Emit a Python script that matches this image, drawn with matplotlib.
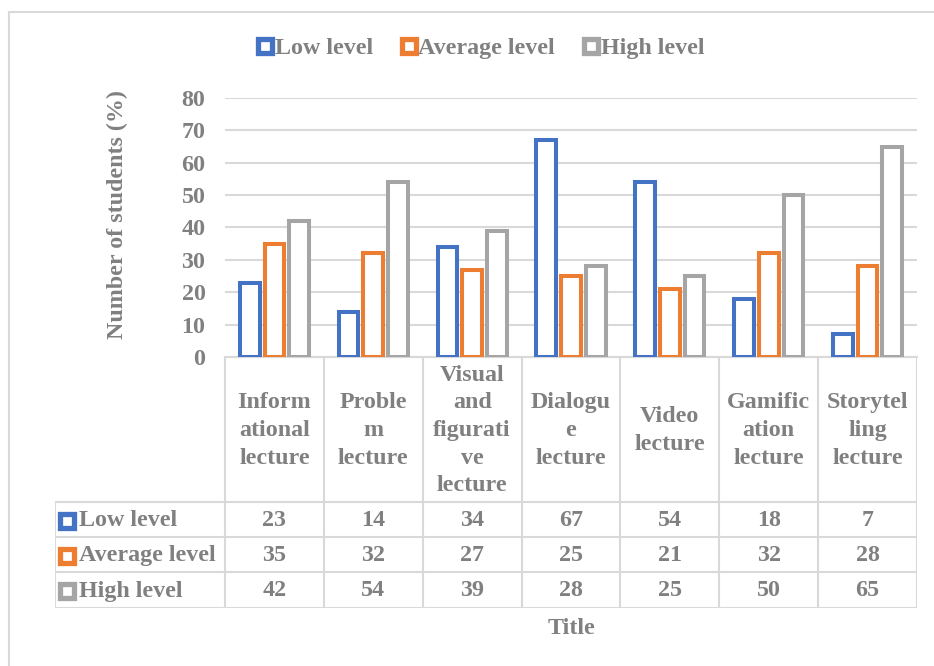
import numpy as np
import matplotlib.pyplot as plt
from matplotlib.lines import Line2D

plt.rcParams['font.family'] = ['Liberation Serif', 'DejaVu Serif']
plt.rcParams['font.weight'] = 'bold'

# data
categories = ['Inform\national\nlecture', 'Proble\nm\nlecture', 'Visual\nand\nfigurati\nve\nlecture',
              'Dialogu\ne\nlecture', 'Video\nlecture', 'Gamific\nation\nlecture', 'Storytel\nling\nlecture']
series = ['Low level', 'Average level', 'High level']
low = [23, 14, 34, 67, 54, 18, 7]
average = [35, 32, 27, 25, 21, 32, 28]
high = [42, 54, 39, 28, 25, 50, 65]
values = [low, average, high]
colors = ['#4472C4', '#ED7D31', '#A5A5A5']
yticks = [0, 10, 20, 30, 40, 50, 60, 70, 80]

txt = '#808080'
grid = '#d9d9d9'
fs = 17.3
W, H = 934, 666

fig = plt.figure(figsize=(W / 100, H / 100), dpi=100)

# plot area in pixels
px_l, px_r, px_t, px_b = 225, 917, 98, 357
ax = fig.add_axes([px_l / W, 1 - px_b / H, (px_r - px_l) / W, (px_b - px_t) / H])
n = len(categories)
x = np.arange(n)
offs = [-0.25, 0, 0.25]
for i in range(3):
    ax.bar(x + offs[i], values[i], width=0.2, facecolor='white', edgecolor=colors[i],
           linewidth=2.9, zorder=3)
ax.set_xlim(-0.5, n - 0.5)
ax.set_ylim(0, 80)
ax.set_yticks(yticks)
ax.set_yticklabels([str(t) for t in yticks], fontsize=fs, color=txt, fontweight='bold')
ax.tick_params(axis='y', length=0, pad=14)
ax.set_xticks([])
ax.grid(axis='y', color=grid, linewidth=1.5, zorder=0)
for s in ['top', 'right', 'left']:
    ax.spines[s].set_visible(False)
ax.spines['bottom'].set_color(grid)
ax.spines['bottom'].set_linewidth(1.5)
ax.set_ylabel('Number of students (%)', fontsize=fs, color=txt, fontweight='bold')
ax.yaxis.set_label_coords(-97 / (px_r - px_l), (px_b - 215) / (px_b - px_t))

# data table below, same x units as plot
unit = (px_r - px_l) / n
tb_l, tb_t, tb_b = 55, 357, 608
tax = fig.add_axes([tb_l / W, 1 - tb_b / H, (px_r - tb_l) / W, (tb_b - tb_t) / H])
x0 = -0.5 - (px_l - tb_l) / unit
tax.set_xlim(x0, n - 0.5)
tax.set_ylim(tb_b - tb_t, 0)
tax.axis('off')
head = 145
rows = [head, head + 35, head + 70, tb_b - tb_t]
lk = dict(color=grid, linewidth=1.5, solid_capstyle='projecting')
# horizontal lines
tax.plot([-0.5, n - 0.5], [0, 0], **lk)
for r in rows:
    tax.plot([x0, n - 0.5], [r, r], **lk)
# vertical lines
for b in np.arange(n + 1) - 0.5:
    tax.plot([b, b], [0, rows[-1]], **lk)
tax.plot([x0, x0], [head, rows[-1]], **lk)

for j, c in enumerate(categories):
    tax.text(j, head / 2 + 1, c, ha='center', va='center', fontsize=fs, color=txt,
             fontweight='bold', linespacing=1.42)
for i in range(3):
    yc = (rows[i] + rows[i + 1]) / 2 + 1
    tax.plot(x0 + 0.12, yc, marker='s', markersize=9.5, markerfacecolor='white',
             markeredgecolor=colors[i], markeredgewidth=3.8, clip_on=False)
    tax.text(x0 + 0.245, yc, series[i], ha='left', va='center', fontsize=fs, color=txt,
             fontweight='bold')
    for j in range(n):
        tax.text(j, yc, str(values[i][j]), ha='center', va='center', fontsize=fs,
                 color=txt, fontweight='bold')

fig.text((px_l + px_r) / 2 / W, 1 - 628 / H, 'Title', ha='center', va='center',
         fontsize=fs, color=txt, fontweight='bold')

# legend
handles = [Line2D([], [], linestyle='none', marker='s', markersize=9.5, markerfacecolor='white',
                  markeredgecolor=colors[i], markeredgewidth=3.8) for i in range(3)]
leg = fig.legend(handles, series, loc='center', bbox_to_anchor=(481 / W, 1 - 48 / H),
                 ncol=3, frameon=False, handlelength=0.6, handletextpad=0.1,
                 columnspacing=1.2, prop={'size': fs, 'weight': 'bold'})
for t in leg.get_texts():
    t.set_color(txt)

# outer chart border
fig.add_artist(Line2D([8.5 / W, 8.5 / W], [0, 1 - 11.5 / H], color=grid, linewidth=1.5))
fig.add_artist(Line2D([8.5 / W, 1], [1 - 11.5 / H, 1 - 11.5 / H], color=grid, linewidth=1.5))

fig.savefig('out.png', dpi=100)
